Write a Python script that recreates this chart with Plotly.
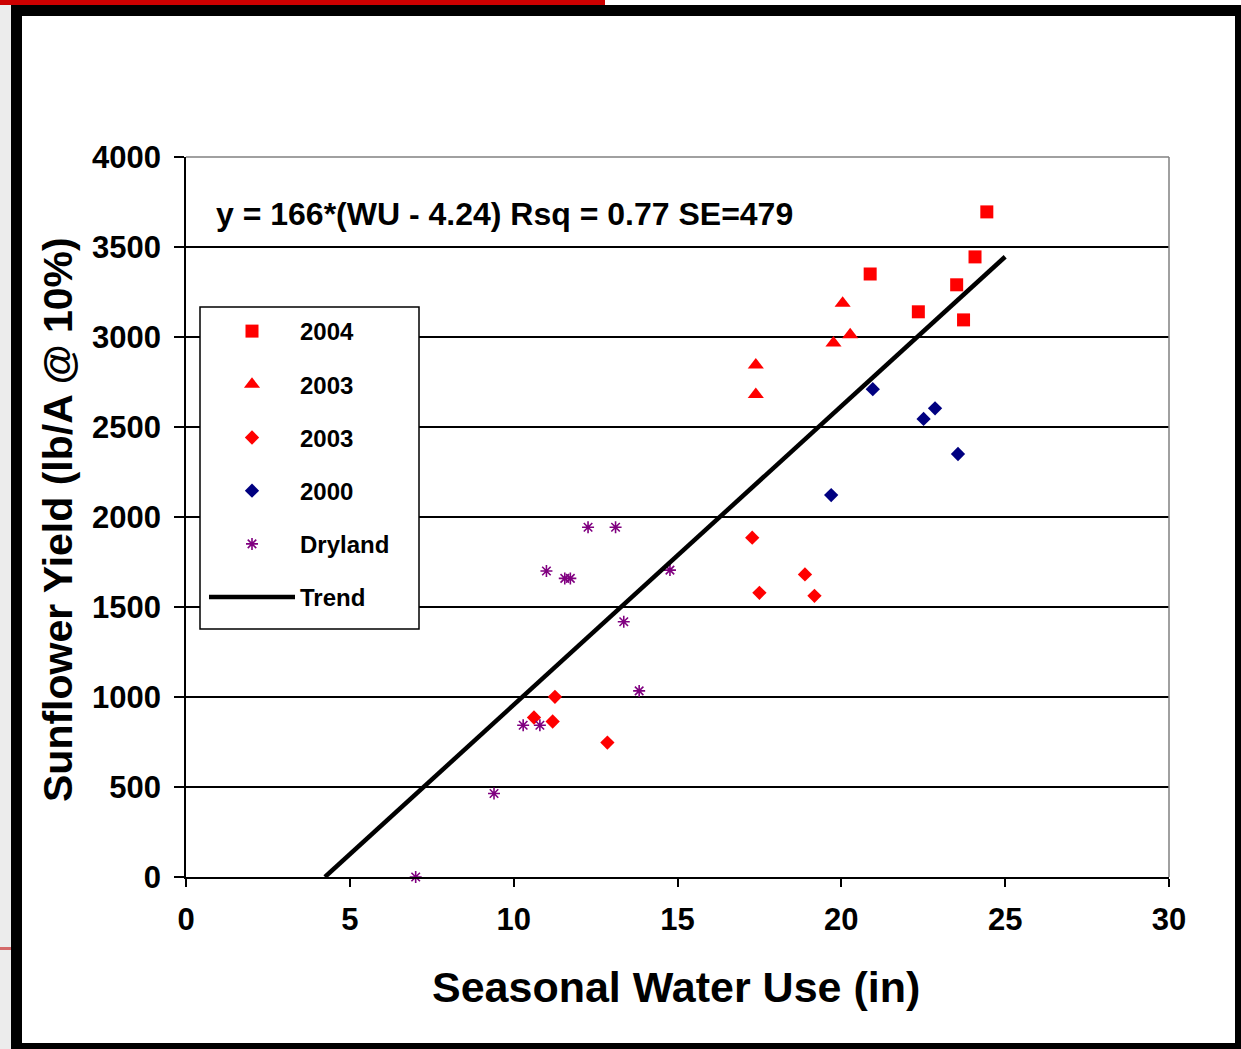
import plotly.graph_objects as go

# ---- data ----
x_2004 = [20.88, 22.35, 23.52, 23.73, 24.08, 24.44]
y_2004 = [3350, 3140, 3290, 3095, 3445, 3695]

x_2003_tri = [17.39, 17.39, 20.04, 19.76, 20.27]
y_2003_tri = [2844, 2681, 3188, 2966, 3012]

x_2003_dia = [17.28, 18.89, 17.50, 19.18, 11.26, 10.62, 11.19, 12.86]
y_2003_dia = [1885, 1681, 1579, 1562, 1001, 886, 864, 747]

x_2000 = [20.96, 22.86, 22.51, 23.56, 19.69]
y_2000 = [2710, 2604, 2545, 2350, 2122]

x_dry = [12.27, 13.11, 11.00, 11.56, 11.73, 14.77, 13.36, 13.83, 10.29, 10.80, 9.40, 7.01]
y_dry = [1943, 1943, 1700, 1659, 1659, 1705, 1418, 1034, 843, 843, 464, 0]

trend_x = [4.24, 25.0]
trend_y = [0, 3446]

x_ticks = [0, 5, 10, 15, 20, 25, 30]
y_ticks = [0, 500, 1000, 1500, 2000, 2500, 3000, 3500, 4000]

equation_text = "y = 166*(WU - 4.24) Rsq = 0.77 SE=479"
x_title = "Seasonal Water Use (in)"
y_title = "Sunflower Yield (lb/A @ 10%)"

# ---- layout geometry ----
W, H = 1241, 1049
L, R, T, B = 186, 72, 157, 172
PW, PH = W - L - R, H - T - B


def fx(px):
    return (px - L) / PW


def fy(py):
    return (H - B - py) / PH


FONT = "Liberation Sans, Arial, sans-serif"
RED = "#ff0000"
NAVY = "#000080"
PURPLE = "#800080"

fig = go.Figure()

fig.add_trace(go.Scatter(x=x_2004, y=y_2004, mode="markers", name="2004",
                         legendgroup="a",
                         marker=dict(symbol="square", size=13, color=RED),
                         cliponaxis=False))
fig.add_trace(go.Scatter(x=x_2003_tri, y=y_2003_tri, mode="markers", name="2003",
                         legendgroup="b",
                         marker=dict(symbol="triangle-up", size=14, color=RED),
                         cliponaxis=False))
fig.add_trace(go.Scatter(x=x_2003_dia, y=y_2003_dia, mode="markers", name="2003",
                         legendgroup="c",
                         marker=dict(symbol="diamond", size=11, color=RED),
                         cliponaxis=False))
fig.add_trace(go.Scatter(x=x_2000, y=y_2000, mode="markers", name="2000",
                         legendgroup="d",
                         marker=dict(symbol="diamond", size=11, color=NAVY),
                         cliponaxis=False))
fig.add_trace(go.Scatter(x=x_dry, y=y_dry, mode="markers", name="Dryland",
                         legendgroup="e",
                         marker=dict(symbol="asterisk-open", size=10, color=PURPLE,
                                     line=dict(color=PURPLE, width=1.6)),
                         cliponaxis=False))
fig.add_trace(go.Scatter(x=trend_x, y=trend_y, mode="lines", name="Trend",
                         legendgroup="f",
                         line=dict(color="black", width=4.5),
                         cliponaxis=False))

shapes = []


def rect(x0, y0, x1, y1, color, line=None):
    shapes.append(dict(type="rect", xref="paper", yref="paper",
                       x0=fx(x0), x1=fx(x1), y0=fy(y1), y1=fy(y0),
                       fillcolor=color, line=line or dict(width=0), layer="above"))


# frame of the slide picture
rect(0, 0, 11, H, "#ececec")
rect(0, 0, 605, 5, "#cc0000")
rect(11, 5, W, 16, "black")
rect(11, 5, 22, H, "black")
rect(1235, 5, W, H, "black")
rect(11, 1043, W, H, "black")
rect(0, 947, 11, 950, "#d46a6a")

# legend box
rect(200, 307, 419, 629, "white", dict(color="black", width=1.5))

# gray plot border (top and right)
shapes.append(dict(type="line", xref="paper", yref="paper", x0=0, x1=1, y0=1, y1=1,
                   line=dict(color="#808080", width=1.5), layer="above"))
shapes.append(dict(type="line", xref="paper", yref="paper", x0=1, x1=1, y0=0, y1=1,
                   line=dict(color="#808080", width=1.5), layer="above"))

annotations = [
    dict(text=equation_text, xref="paper", yref="paper", x=fx(214), y=fy(214),
         xanchor="left", yanchor="middle", showarrow=False,
         font=dict(family=FONT, size=32, color="black", weight="bold")),
    dict(text=x_title, xref="paper", yref="paper", x=fx(676), y=fy(987),
         xanchor="center", yanchor="middle", showarrow=False,
         font=dict(family=FONT, size=43, color="black", weight="bold")),
    dict(text=y_title, xref="paper", yref="paper", x=fx(58), y=fy(520),
         xanchor="center", yanchor="middle", showarrow=False, textangle=-90,
         font=dict(family=FONT, size=41, color="black", weight="bold")),
]

fig.update_layout(
    width=W, height=H,
    margin=dict(l=L, r=R, t=T, b=B, pad=0),
    paper_bgcolor="white", plot_bgcolor="white",
    showlegend=True,
    legend=dict(x=fx(204), y=fy(309), xanchor="left", yanchor="top",
                bgcolor="rgba(0,0,0,0)", borderwidth=0,
                font=dict(family=FONT, size=24, color="black", weight="bold"),
                itemwidth=86, tracegroupgap=19, traceorder="grouped"),
    shapes=shapes,
    annotations=annotations,
    xaxis=dict(range=[0, 30], tickvals=x_ticks, ticktext=[str(v) for v in x_ticks],
               showgrid=False, zeroline=False, showline=True, linecolor="black",
               linewidth=1.5, ticks="outside", ticklen=8, tickwidth=1.5,
               tickcolor="black", ticklabelstandoff=6,
               tickfont=dict(family=FONT, size=31, color="black", weight="bold")),
    yaxis=dict(range=[0, 4000], tickvals=y_ticks, ticktext=[str(v) for v in y_ticks],
               showgrid=True, gridcolor="black", gridwidth=1.5, zeroline=False,
               showline=True, linecolor="black", linewidth=1.5, ticks="outside",
               ticklen=10, tickwidth=1.5, tickcolor="black", ticklabelstandoff=7,
               tickfont=dict(family=FONT, size=31, color="black", weight="bold")),
)

fig.write_html("out.html")
